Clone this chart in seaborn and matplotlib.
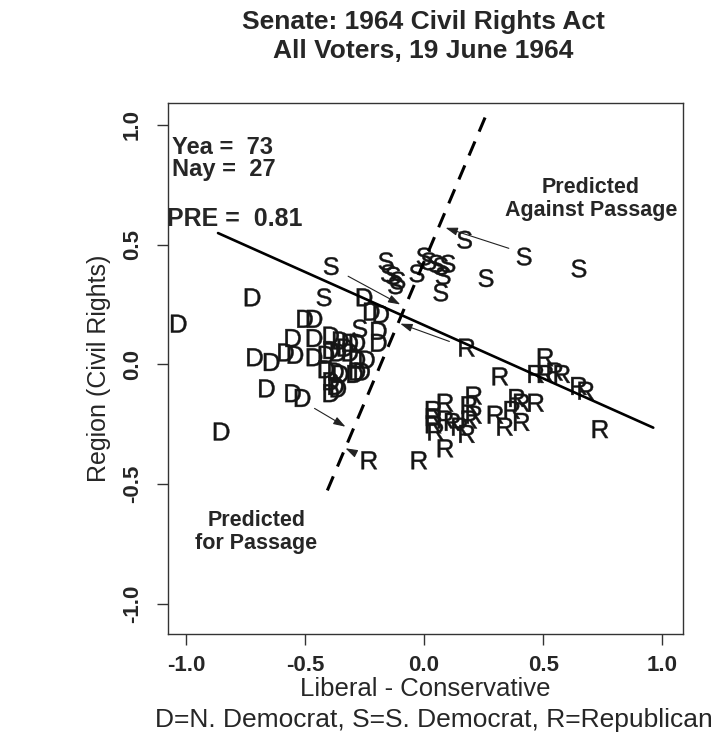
import seaborn as sns
import matplotlib.pyplot as plt
import pandas as pd

# ideal points: (liberal-conservative, region)
d_x = [-1.03, -0.72, -0.85, -0.66, -0.71, -0.64, -0.55, -0.58, -0.54, -0.55, -0.51,
       -0.50, -0.46, -0.25, -0.22, -0.18, -0.19, -0.19, -0.24, -0.28, -0.46, -0.39,
       -0.35, -0.31, -0.28, -0.46, -0.41, -0.39, -0.36, -0.33, -0.31, -0.28, -0.41,
       -0.37, -0.35, -0.29, -0.26, -0.39, -0.37, -0.39, -0.36]
d_y = [0.17, 0.28, -0.28, -0.10, 0.03, 0.01, 0.11, 0.05, 0.04, -0.12, -0.14,
       0.19, 0.19, 0.28, 0.22, 0.21, 0.14, 0.09, 0.02, -0.03, 0.11, 0.12,
       0.10, 0.09, 0.09, 0.03, 0.04, 0.06, 0.05, 0.07, 0.05, 0.02, -0.02,
       -0.03, -0.04, -0.04, -0.03, -0.07, -0.09, -0.12, -0.10]
s_x = [-0.39, -0.42, -0.27, -0.16, -0.15, -0.13, -0.12, -0.11, -0.03, 0.00,
       0.02, 0.05, 0.07, 0.10, 0.08, 0.07, 0.17, 0.26, 0.42, 0.65]
s_y = [0.41, 0.28, 0.15, 0.43, 0.38, 0.37, 0.33, 0.35, 0.38, 0.45,
       0.43, 0.42, 0.41, 0.42, 0.37, 0.30, 0.52, 0.36, 0.45, 0.40]
r_x = [0.18, 0.32, 0.51, 0.47, 0.51, 0.55, 0.58, 0.65, 0.68, 0.74, 0.21,
       0.19, 0.21, 0.19, 0.18, 0.09, 0.04, 0.04, 0.04, 0.05, 0.09, 0.12,
       0.15, 0.09, -0.02, 0.30, 0.34, 0.37, 0.39, 0.41, 0.47, 0.41, -0.23]
r_y = [0.07, -0.05, 0.03, -0.04, -0.04, -0.03, -0.04, -0.09, -0.11, -0.27, -0.13,
       -0.17, -0.21, -0.23, -0.29, -0.16, -0.19, -0.22, -0.25, -0.28, -0.23, -0.24,
       -0.26, -0.35, -0.40, -0.21, -0.26, -0.19, -0.14, -0.16, -0.16, -0.24, -0.40]

# cutting line (solid) and its normal (dashed)
cut_x = [-0.865, 0.962]
cut_y = [0.548, -0.264]
norm_x = [0.256, -0.41]
norm_y = [1.03, -0.535]

# arrows from legislators toward the lines: (x0, y0, x1, y1)
arrows = [(-0.36, 0.39, -0.10, 0.25),
          (0.15, 0.08, -0.10, 0.17),
          (-0.50, -0.16, -0.33, -0.26),
          (-0.27, -0.38, -0.33, -0.35),
          (0.40, 0.47, 0.09, 0.57)]

df = pd.DataFrame({
    "x": d_x + s_x + r_x,
    "y": d_y + s_y + r_y,
    "party": ["D"] * len(d_x) + ["S"] * len(s_x) + ["R"] * len(r_x),
})

sns.set_theme(style="white")
plt.rcParams["font.family"] = ["Liberation Sans", "DejaVu Sans"]
plt.rcParams["mathtext.fontset"] = "custom"
plt.rcParams["mathtext.sf"] = "Liberation Sans"

fig = plt.figure(figsize=(7.2, 7.53), dpi=100)
ax = fig.add_axes([0.233, 0.158, 0.716, 0.705])

sns.scatterplot(data=df, x="x", y="y", style="party",
                markers={"D": r"$\mathsf{D}$", "S": r"$\mathsf{S}$", "R": r"$\mathsf{R}$"},
                color="#151515", edgecolor="#151515", s=165, linewidth=0.3,
                legend=False, ax=ax)

ax.plot(cut_x, cut_y, color="black", lw=1.9)
ax.plot(norm_x, norm_y, color="black", lw=2.2, dashes=(5, 3.5))

for x0, y0, x1, y1 in arrows:
    ax.annotate("", xy=(x1, y1), xytext=(x0, y0),
                arrowprops=dict(arrowstyle="-|>,head_length=0.6,head_width=0.2",
                                color="#222222", lw=0.8, shrinkA=8, shrinkB=0))

ax.text(-1.058, 0.905, "Yea =  73", fontsize=17, fontweight="bold", va="center")
ax.text(-1.058, 0.815, "Nay =  27", fontsize=17, fontweight="bold", va="center")
ax.text(-1.078, 0.607, "PRE =  0.81", fontsize=18, fontweight="bold", va="center")
ax.text(0.70, 0.69, "Predicted\nAgainst Passage", fontsize=15.5, fontweight="bold",
        ha="center", va="center", linespacing=1.15)
ax.text(-0.705, -0.70, "Predicted\nfor Passage", fontsize=15.5, fontweight="bold",
        ha="center", va="center", linespacing=1.15)

ax.set_xlim(-1.076, 1.088)
ax.set_ylim(-1.125, 1.09)
ticks = [-1.0, -0.5, 0.0, 0.5, 1.0]
ax.set_xticks(ticks)
ax.set_yticks(ticks)
ax.set_xticklabels([f"{t:.1f}" for t in ticks], fontsize=16, fontweight="bold")
ax.set_yticklabels([f"{t:.1f}" for t in ticks], fontsize=16, fontweight="bold",
                   rotation=90, va="center")
ax.tick_params(direction="out", length=8, width=1, color="#333333", pad=7,
               bottom=True, left=True)
ax.tick_params(axis="y", pad=10)
for sp in ax.spines.values():
    sp.set_color("#333333")
    sp.set_linewidth(1)

ax.set_xlabel("Liberal - Conservative", fontsize=18.5, labelpad=1)
ax.set_ylabel("Region (Civil Rights)", fontsize=18, labelpad=8)
fig.text(0.602, 0.044, "D=N. Democrat, S=S. Democrat, R=Republican",
         fontsize=19, ha="center", va="center")
fig.suptitle("Senate: 1964 Civil Rights Act\nAll Voters, 19 June 1964",
             x=0.588, y=0.987, fontsize=19, fontweight="bold", linespacing=1.3)

fig.savefig("out.png", dpi=100, facecolor="white")
